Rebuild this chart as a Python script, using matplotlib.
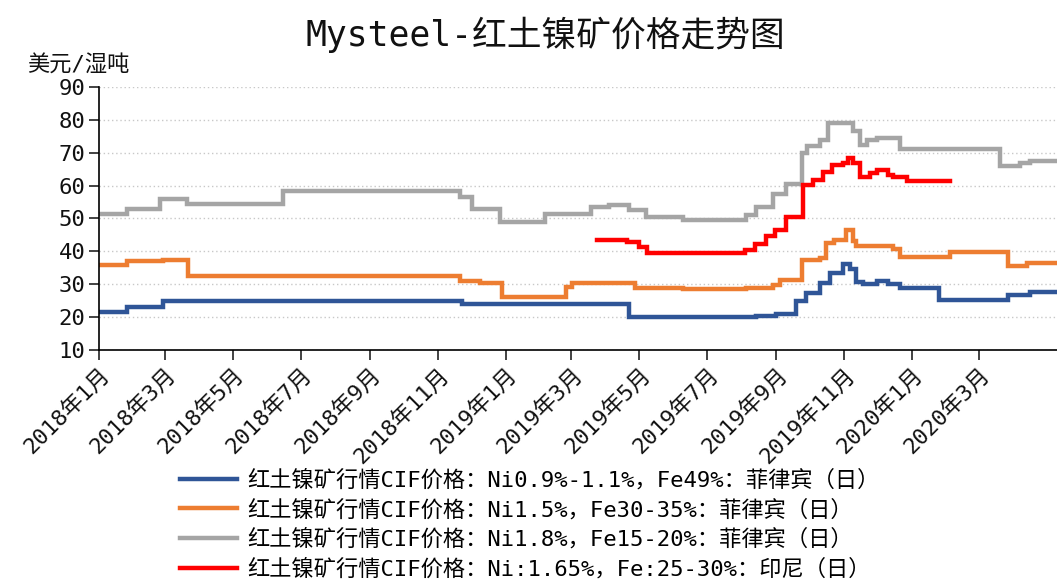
import matplotlib.pyplot as plt
import pandas as pd

# monospace latin + CJK fallback, to get the wide look of the original
plt.rcParams['font.family'] = ['DejaVu Sans Mono', 'Noto Sans CJK SC']

# step-change points (date, price) for each weekly series
blue_dates = ['2018-01-01', '2018-01-26', '2018-02-27', '2018-11-23', '2019-04-22',
              '2019-08-14', '2019-09-01', '2019-09-19', '2019-09-28', '2019-10-10',
              '2019-10-19', '2019-10-31', '2019-11-06', '2019-11-12', '2019-11-18',
              '2019-11-30', '2019-12-10', '2019-12-21', '2020-01-25', '2020-03-27',
              '2020-04-16', '2020-05-10']
blue_vals = [21.5, 23, 25, 24, 20, 20.4, 21, 25, 27.3, 30.5, 33.3, 36.3, 34.5,
             30.7, 30, 31, 30, 28.8, 25.2, 26.7, 27.7, 27.7]

orange_dates = ['2018-01-01', '2018-01-26', '2018-02-27', '2018-03-22', '2018-11-21',
                '2018-12-09', '2018-12-29', '2019-02-24', '2019-03-02', '2019-04-27',
                '2019-06-09', '2019-08-05', '2019-08-29', '2019-09-04', '2019-09-24',
                '2019-10-10', '2019-10-16', '2019-10-23', '2019-11-03', '2019-11-09',
                '2019-11-12', '2019-12-15', '2019-12-21', '2020-02-04', '2020-03-27',
                '2020-04-13', '2020-05-10']
orange_vals = [36, 37, 37.5, 32.5, 31, 30.5, 26, 29.2, 30.5, 29, 28.5, 29, 29.8,
               31.3, 37.4, 38, 42.5, 43.5, 46.5, 43, 41.5, 40.6, 38.3, 39.8, 35.6,
               36.5, 36.5]

gray_dates = ['2018-01-01', '2018-01-26', '2018-02-25', '2018-03-21', '2018-06-15',
              '2018-11-21', '2018-12-02', '2018-12-27', '2019-02-05', '2019-03-19',
              '2019-04-04', '2019-04-22', '2019-05-07', '2019-06-09', '2019-08-05',
              '2019-08-14', '2019-08-29', '2019-09-10', '2019-09-24', '2019-09-29',
              '2019-10-10', '2019-10-17', '2019-11-09', '2019-11-15', '2019-11-21',
              '2019-11-30', '2019-12-21', '2020-03-20', '2020-04-07', '2020-04-16',
              '2020-05-10']
gray_vals = [51.5, 53, 56, 54.5, 58.3, 56.5, 53, 49, 51.5, 53.5, 54, 52.5, 50.5,
             49.5, 51, 53.5, 57.5, 60.5, 70, 72, 74, 79, 76.5, 72.5, 74, 74.5, 71,
             66, 66.8, 67.5, 67.5]

red_dates = ['2019-03-24', '2019-04-20', '2019-05-01', '2019-05-08', '2019-08-04',
             '2019-08-13', '2019-08-23', '2019-08-31', '2019-09-10', '2019-09-25',
             '2019-10-04', '2019-10-13', '2019-10-21', '2019-10-31', '2019-11-04',
             '2019-11-09', '2019-11-15', '2019-11-24', '2019-11-30', '2019-12-10',
             '2019-12-15', '2019-12-27', '2020-02-04']
red_vals = [43.5, 42.8, 41.2, 39.6, 40.5, 42.3, 44.6, 46.4, 50.6, 60.3, 61.7, 64,
            66.3, 67, 68.4, 66.8, 62.7, 63.9, 64.8, 63.3, 62.5, 61.4, 61.4]

tick_dates = ['2018-01-01', '2018-03-01', '2018-05-01', '2018-07-01', '2018-09-01',
              '2018-11-01', '2019-01-01', '2019-03-01', '2019-05-01', '2019-07-01',
              '2019-09-01', '2019-11-01', '2020-01-01', '2020-03-01']
tick_labels = ['2018年1月', '2018年3月', '2018年5月', '2018年7月', '2018年9月',
               '2018年11月', '2019年1月', '2019年3月', '2019年5月', '2019年7月',
               '2019年9月', '2019年11月', '2020年1月', '2020年3月']

labels = [
    '红土镍矿行情CIF价格：Ni0.9%-1.1%，Fe49%：菲律宾（日）',
    '红土镍矿行情CIF价格：Ni1.5%，Fe30-35%：菲律宾（日）',
    '红土镍矿行情CIF价格：Ni1.8%，Fe15-20%：菲律宾（日）',
    '红土镍矿行情CIF价格：Ni:1.65%，Fe:25-30%：印尼（日）',
]
colors = ['#2F5597', '#ED7D31', '#A5A5A5', '#FF0000']

fig = plt.figure(figsize=(10.57, 5.81), dpi=100)
ax = fig.add_axes([0.0937, 0.3976, 0.9063, 0.4527])

series = [(blue_dates, blue_vals), (orange_dates, orange_vals),
          (gray_dates, gray_vals), (red_dates, red_vals)]
for (d, v), c, lab in zip(series, colors, labels):
    ax.plot(pd.to_datetime(d), v, drawstyle='steps-post', color=c, lw=3.2,
            label=lab, solid_joinstyle='miter')

ax.set_xlim(pd.Timestamp('2018-01-01'), pd.Timestamp('2020-05-10'))
ax.set_ylim(10, 90)
ax.set_yticks(range(10, 91, 10))
ax.yaxis.grid(True, linestyle=(0, (1, 2)), color='#C8C8C8', linewidth=1)
ax.set_axisbelow(True)

ax.set_xticks(pd.to_datetime(tick_dates))
ax.set_xticklabels(tick_labels, rotation=45, ha='right', rotation_mode='anchor')

for s in ['top', 'right']:
    ax.spines[s].set_visible(False)
ax.spines['left'].set_linewidth(1.2)
ax.spines['bottom'].set_linewidth(1.2)
ax.tick_params(axis='both', direction='out', length=7, width=1.2, labelsize=16,
               colors='#222222', labelcolor='#111111', pad=3)

fig.text(0.516, 0.94, 'Mysteel-红土镍矿价格走势图', ha='center', va='center',
         fontsize=25, color='#111111')
fig.text(0.026, 0.887, '美元/湿吨', ha='left', va='center', fontsize=16, color='#111111')

fig.legend(loc='upper left', bbox_to_anchor=(0.170, 0.193), frameon=False,
           fontsize=16, handlelength=2.6, handletextpad=0.45, labelspacing=0.38,
           borderaxespad=0, borderpad=0)

fig.savefig('out.png', dpi=100)
